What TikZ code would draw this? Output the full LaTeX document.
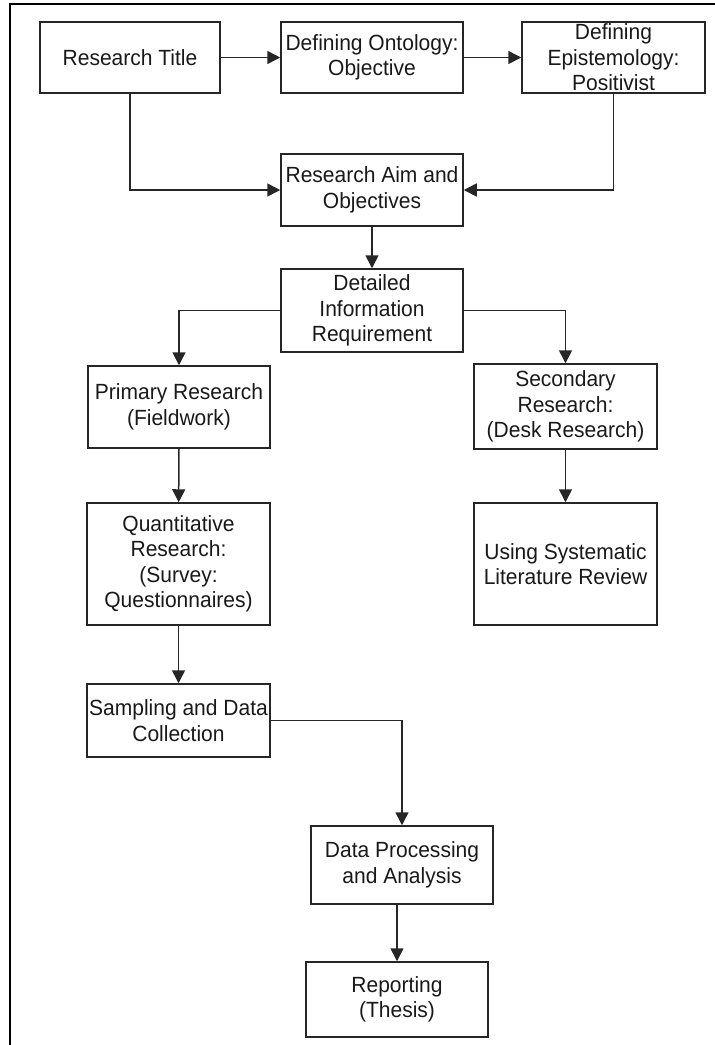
\documentclass[tikz,border=0pt]{standalone}
\usepackage{fontspec}
\setmainfont[FakeStretch=0.955]{Liberation Sans}
\usetikzlibrary{arrows.meta}

\begin{document}
\begin{tikzpicture}[x=1pt,y=-1pt,
  box/.style={draw=black!85, line width=1.5pt, inner sep=0pt, align=center,
    font=\fontsize{22}{25.5}\selectfont, text=black!90},
  link/.style={draw=black!85, line width=1.5pt,
    -{Triangle[length=13pt,width=13pt]}},
  frame/.style={draw=black, line width=2.6pt}
]
\useasboundingbox (0,0) rectangle (715,1045);

% outer frame (only left and top edges fall inside the page)
\draw[frame] (10,1060) -- (10,4) -- (730,4);

% boxes: centre, size
\node[box, minimum width=180pt, minimum height=71pt] (title) at (130,57.5) {Research Title};
\node[box, minimum width=182pt, minimum height=71pt] (onto) at (372,57.5) {Defining Ontology:\\Objective};
\node[box, minimum width=183pt, minimum height=71pt] (epist) at (613.5,57.5) {Defining\\Epistemology:\\Positivist};
\node[box, minimum width=182pt, minimum height=72pt] (aim) at (372,190) {Research Aim and\\Objectives};
\node[box, minimum width=182pt, minimum height=83pt] (detail) at (372,310.5) {Detailed\\Information\\Requirement};
\node[box, minimum width=182pt, minimum height=82pt] (primary) at (179,407) {Primary Research\\(Fieldwork)};
\node[box, minimum width=183pt, minimum height=85pt] (secondary) at (565.5,406.5) {Secondary\\Research:\\(Desk Research)};
\node[box, minimum width=183pt, minimum height=122pt] (quant) at (178.5,564) {Quantitative\\Research:\\(Survey:\\Questionnaires)};
\node[box, minimum width=183pt, minimum height=122pt] (slr) at (565.5,564) {Using Systematic\\Literature Review};
\node[box, minimum width=183pt, minimum height=73pt] (sampling) at (178.5,720.5) {Sampling and Data\\Collection};
\node[box, minimum width=182pt, minimum height=78pt] (dp) at (402,865) {Data Processing\\and Analysis};
\node[box, minimum width=182pt, minimum height=75pt] (report) at (397,999.5) {Reporting\\(Thesis)};

% connectors
\draw[link] (title) -- (onto);
\draw[link] (onto) -- (epist);
\draw[link] (title.south) |- (aim.west);
\draw[link] (epist.south) |- (aim.east);
\draw[link] (aim) -- (detail);
\draw[link] (detail.west) -| (primary.north);
\draw[link] (detail.east) -| (secondary.north);
\draw[link] (primary) -- (quant);
\draw[link] (secondary) -- (slr);
\draw[link] (quant) -- (sampling);
\draw[link] (sampling.east) -| (dp.north);
\draw[link] (dp.south -| report.north) -- (report.north);
\end{tikzpicture}
\end{document}
